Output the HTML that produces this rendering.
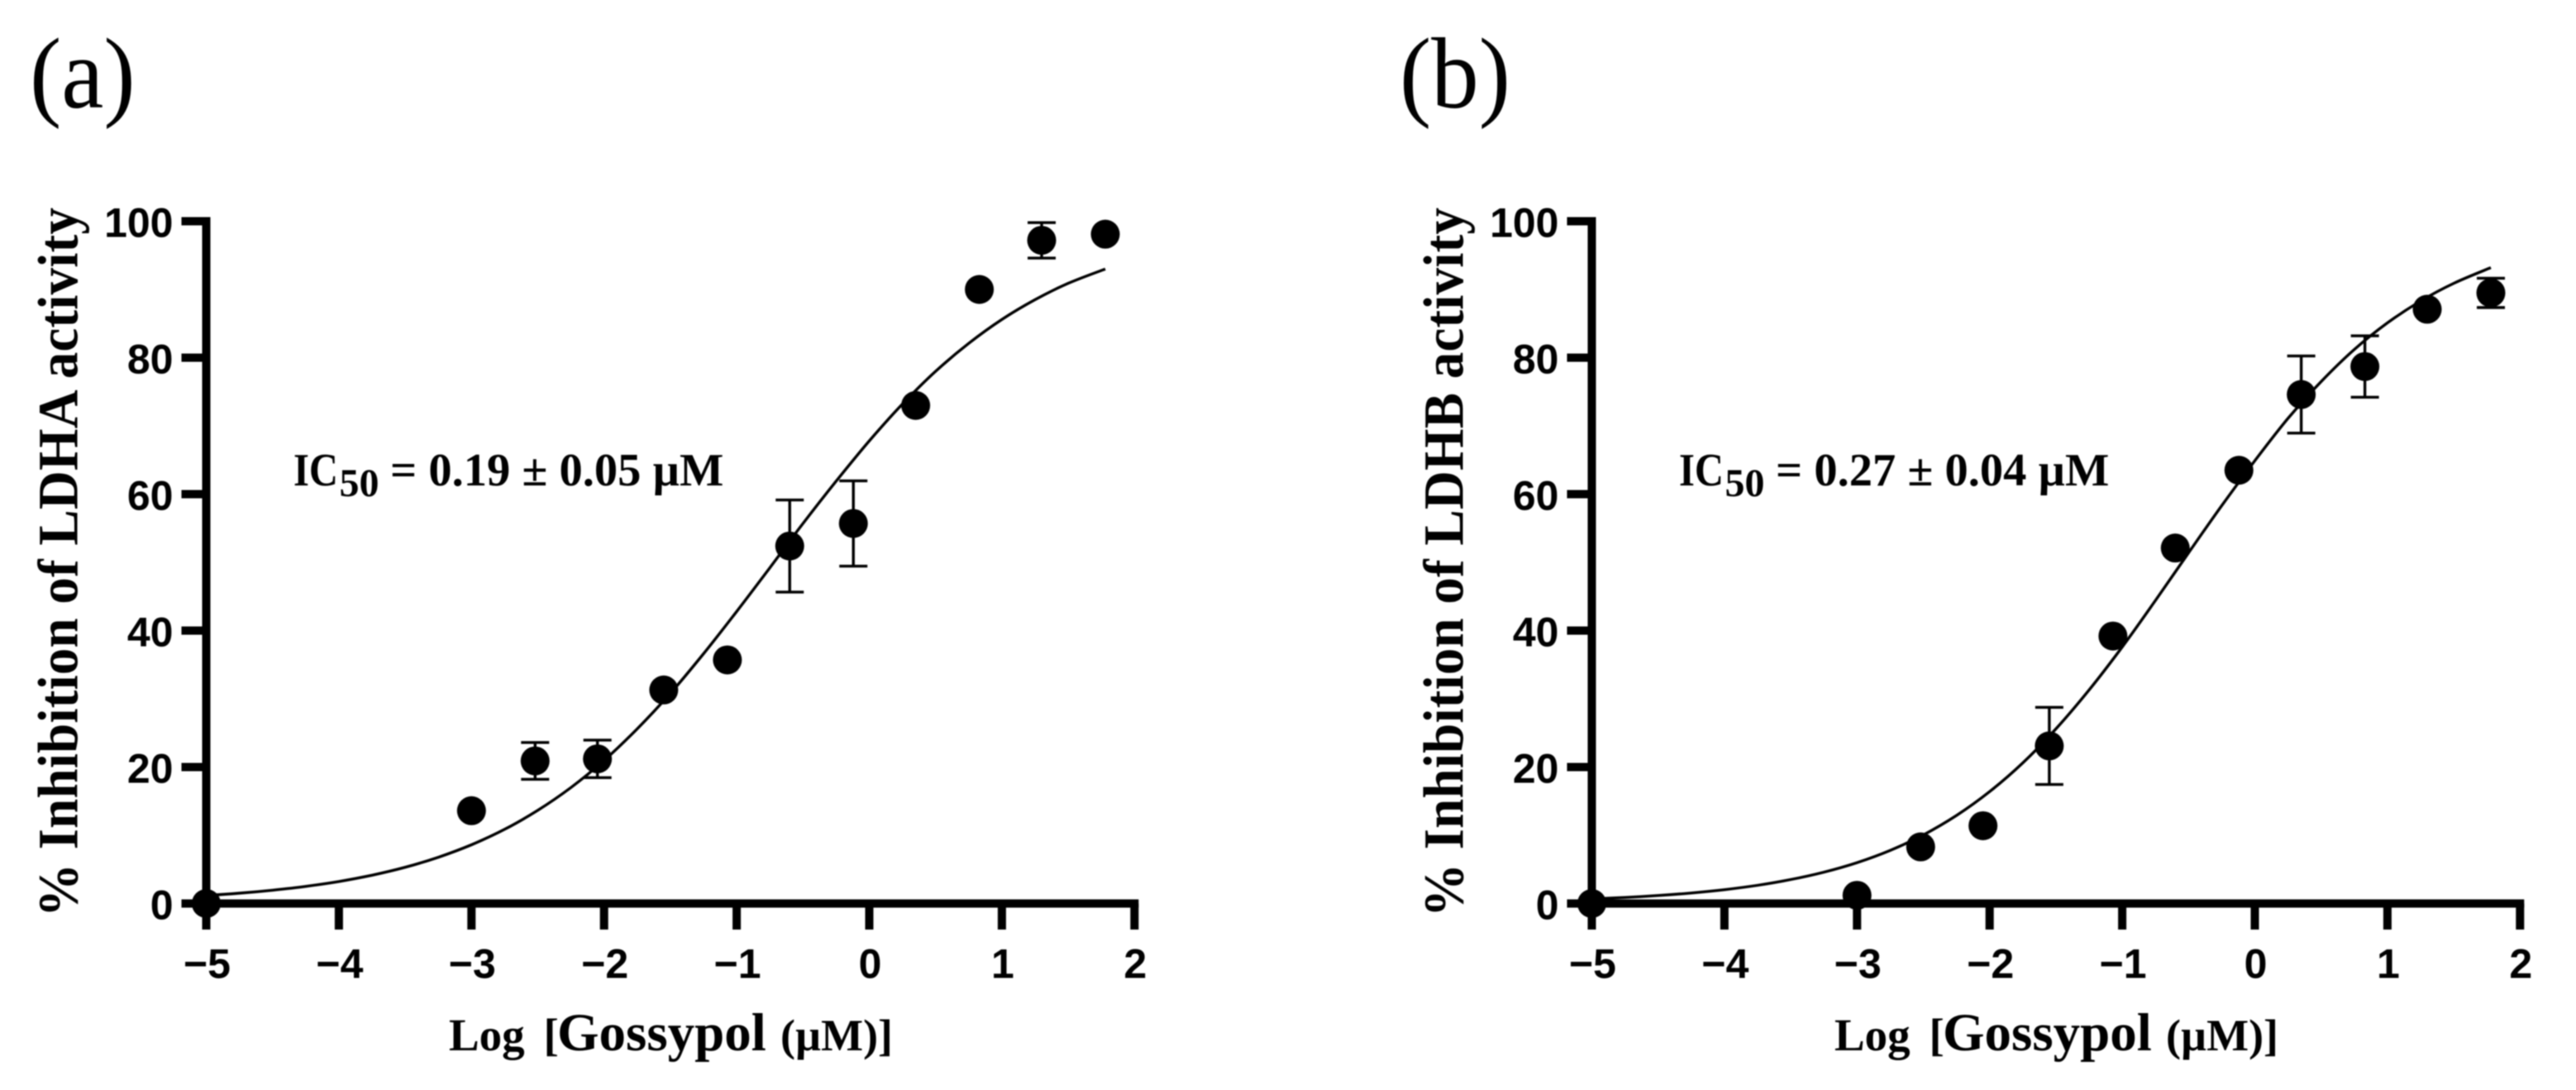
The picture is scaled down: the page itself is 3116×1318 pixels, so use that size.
<!DOCTYPE html>
<html lang="en">
<head>
<meta charset="utf-8">
<title>Gossypol inhibition of LDHA and LDHB</title>
<style>
  html, body { margin: 0; padding: 0; background: #fff; }
  body { width: 3116px; height: 1318px; overflow: hidden; }
  svg { display: block; filter: blur(0.9px); }
  .tick { font: bold 50px "Liberation Sans", sans-serif; fill: #000; }
  .serif { font-family: "Liberation Serif", serif; font-weight: bold; fill: #000; }
</style>
</head>
<body>
<svg id="figure" xmlns="http://www.w3.org/2000/svg" width="3116" height="1318" viewBox="0 0 3116 1318">
  <rect x="0" y="0" width="3116" height="1318" fill="#fff"/>
</svg>
<script>
// ---- Chart data ----
const xTickValues = [-5, -4, -3, -2, -1, 0, 1, 2];
const yTickValues = [0, 20, 40, 60, 80, 100];

const logDose = [-5, -3, -2.52, -2.05, -1.55, -1.07, -0.6, -0.12, 0.35, 0.83, 1.3, 1.78];

const inhibitionA = [0, 13.6, 20.9, 21.2, 31.3, 35.7, 52.4, 55.7, 73.0, 90.0, 97.2, 98.1];
const errorA      = [0, 0, 2.7, 2.75, 0, 0, 6.75, 6.25, 0, 0, 2.6, 0];

const inhibitionB = [0, 1.2, 8.3, 11.4, 23.1, 39.2, 52.1, 63.5, 74.6, 78.7, 87.1, 89.5];
const errorB      = [0, 0, 0, 0, 5.65, 0, 0, 0, 5.65, 4.5, 0, 2.15];

const curveDose = [-5, -4.75, -4.5, -4.25, -4, -3.75, -3.5, -3.25, -3, -2.75, -2.5, -2.25, -2, -1.75, -1.5, -1.25, -1, -0.75, -0.5, -0.25, 0, 0.25, 0.5, 0.75, 1, 1.25, 1.5, 1.78];
const curveA = [1.17, 1.51, 1.95, 2.51, 3.23, 4.15, 5.31, 6.78, 8.61, 10.87, 13.66, 17.0, 20.97, 25.6, 30.8, 36.6, 42.8, 49.2, 55.7, 61.9, 67.8, 73.2, 78.0, 82.1, 85.6, 88.5, 90.9, 93.0];
const curveB = [0.67, 0.89, 1.17, 1.54, 2.03, 2.67, 3.51, 4.59, 5.99, 7.78, 10.05, 12.9, 16.4, 20.6, 25.6, 31.3, 37.6, 44.4, 51.4, 58.3, 64.9, 71.1, 76.5, 81.2, 85.1, 88.3, 90.9, 93.2];

const panelLetters = ['(a)', '(b)'];
const enzymeNames = ['LDHA', 'LDHB'];
const icLabels = ['= 0.19 ± 0.05 µM', '= 0.27 ± 0.04 µM'];

// ---- Drawing ----
const SVG_NS = 'http://www.w3.org/2000/svg';
const figure = document.getElementById('figure');

function make(tag, parent) {
  const el = document.createElementNS(SVG_NS, tag);
  parent.appendChild(el);
  return el;
}

function lineEl(parent, x1, y1, x2, y2, width) {
  const el = make('line', parent);
  el.setAttribute('x1', x1);
  el.setAttribute('y1', y1);
  el.setAttribute('x2', x2);
  el.setAttribute('y2', y2);
  el.setAttribute('stroke', '#000');
  el.setAttribute('stroke-width', width);
  return el;
}

function textEl(parent, x, y, content, cls, anchor, size) {
  const el = make('text', parent);
  el.setAttribute('x', x);
  el.setAttribute('y', y);
  if (cls) el.setAttribute('class', cls);
  if (anchor) el.setAttribute('text-anchor', anchor);
  if (size) el.setAttribute('font-size', size);
  el.textContent = content;
  return el;
}

// Smooth path through the scaled curve samples (Catmull-Rom to Bezier)
function smoothPath(pts) {
  let d = 'M' + pts[0][0].toFixed(1) + ' ' + pts[0][1].toFixed(1);
  for (let i = 0; i < pts.length - 1; i++) {
    const p0 = pts[Math.max(i - 1, 0)];
    const p1 = pts[i];
    const p2 = pts[i + 1];
    const p3 = pts[Math.min(i + 2, pts.length - 1)];
    const c1x = p1[0] + (p2[0] - p0[0]) / 6;
    const c1y = p1[1] + (p2[1] - p0[1]) / 6;
    const c2x = p2[0] - (p3[0] - p1[0]) / 6;
    const c2y = p2[1] - (p3[1] - p1[1]) / 6;
    d += 'C' + c1x.toFixed(1) + ' ' + c1y.toFixed(1) + ' ' + c2x.toFixed(1) + ' ' + c2y.toFixed(1) + ' ' + p2[0].toFixed(1) + ' ' + p2[1].toFixed(1);
  }
  return d;
}

function drawPanel(originX, letter, enzyme, icText, values, errors, curve, letterX) {
  const xScale = v => originX + (v + 5) * 160.4;
  const yScale = v => 1092.5 - v * 8.25;

  const panel = make('g', figure);
  
  

  const panelLabel = textEl(panel, 0, 0, letter, null, null, 115);
  panelLabel.setAttribute('font-family', '"Liberation Serif", serif');
  panelLabel.setAttribute('transform', 'translate(' + letterX + ' 130) scale(1 1.06)');
  
  

  // axes
  const yAxis = lineEl(panel, originX, yScale(100) - 5, originX, 1124, 10);
  
  

  const xAxis = lineEl(panel, originX - 30, yScale(0), xScale(2) + 5, yScale(0), 10);
  
  

  yTickValues.forEach(v => {
    const tick = lineEl(panel, originX - 30, yScale(v), originX, yScale(v), 10);
    
    
    const label = textEl(panel, originX - 40, yScale(v) + 19, String(v), 'tick', 'end');
    
    
  });

  xTickValues.forEach(v => {
    const tick = lineEl(panel, xScale(v), yScale(0), xScale(v), 1124, 10);
    
    
    const text = v < 0 ? '\u2212' + Math.abs(v) : String(v);
    const label = textEl(panel, xScale(v) + 1, 1182.5, text, 'tick', 'middle');
    
    
  });

  // axis titles
  const yTitle = textEl(panel, 0, 0, '% Inhibition of ' + enzyme + ' activity', 'serif', null, 65);
  yTitle.setAttribute('transform', 'translate(' + (originX - 156) + ' 1109) rotate(-90) scale(1 1.06)');
  yTitle.setAttribute('textLength', '858');
  
  

  const xTitle = make('g', panel);
  
  
  textEl(xTitle, originX + 293.5, 1270, 'Log', 'serif', null, 55);
  textEl(xTitle, originX + 408, 1270, '[', 'serif', null, 55);
  textEl(xTitle, originX + 424.5, 1270, 'Gossypol', 'serif', null, 65);
  textEl(xTitle, originX + 694.5, 1270, '(µM)]', 'serif', null, 54);

  // IC50 annotation
  const ic = make('g', panel);
  
  
  const icName = textEl(ic, originX + 105.5, 587, 'IC', 'serif', null, 56.5);
  icName.setAttribute('textLength', '54');
  icName.setAttribute('lengthAdjust', 'spacingAndGlyphs');
  textEl(ic, originX + 161, 600, '50', 'serif', null, 48);
  textEl(ic, originX + 222.5, 587, icText, 'serif', null, 56.5);

  // fit curve
  const fit = make('path', panel);
  fit.setAttribute('d', smoothPath(curveDose.map((d, i) => [xScale(d), yScale(curve[i])])));
  fit.setAttribute('fill', 'none');
  fit.setAttribute('stroke', '#000');
  fit.setAttribute('stroke-width', '3.4');
  
  

  // error bars and points
  logDose.forEach((d, i) => {
    const cx = xScale(d);
    const cy = yScale(values[i]);
    if (errors[i] > 0) {
      const top = yScale(values[i] + errors[i]);
      const bottom = yScale(values[i] - errors[i]);
      const bar = make('g', panel);
      
      
      lineEl(bar, cx, top, cx, bottom, 3.4);
      lineEl(bar, cx - 17, top, cx + 17, top, 3.4);
      lineEl(bar, cx - 17, bottom, cx + 17, bottom, 3.4);
    }
    const dot = make('circle', panel);
    dot.setAttribute('cx', cx);
    dot.setAttribute('cy', cy);
    dot.setAttribute('r', 17.5);
    dot.setAttribute('fill', '#000');
    
    
  });
}

drawPanel(249.5, panelLetters[0], enzymeNames[0], icLabels[0], inhibitionA, errorA, curveA, 36);
drawPanel(1925.5, panelLetters[1], enzymeNames[1], icLabels[1], inhibitionB, errorB, curveB, 1693);
</script>
</body>
</html>
